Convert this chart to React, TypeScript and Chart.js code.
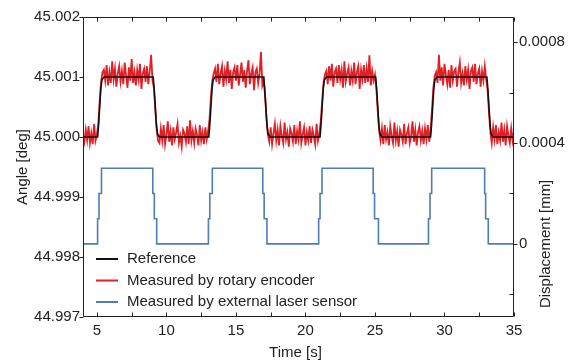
import { useEffect, useRef } from "react";
import { Chart, registerables } from "chart.js";

Chart.register(...registerables);

const FONT = "'Liberation Sans', Arial, Helvetica, sans-serif";
const TEXT = "#222222";

// Axis ticks
const xTicks = [5, 10, 15, 20, 25, 30, 35];
const xMinorTicks = [5, 7.5, 10, 12.5, 15, 17.5, 20, 22.5, 25, 27.5, 30, 32.5, 35];
const angleTicks = [44.997, 44.998, 44.999, 45.0, 45.001, 45.002];
const dispTicks = [0, 0.0004, 0.0008];
const dispMinorTicks = [-0.0002, 0.0002, 0.0006];

// Reference angle (deg)
const refTime = [
  4, 5.05, 5.12, 5.28, 5.36, 5.5,
  9.05, 9.12, 9.28, 9.36, 9.5,
  13.05, 13.12, 13.28, 13.36, 13.5,
  17.0, 17.07, 17.23, 17.31, 17.45,
  21.05, 21.12, 21.28, 21.36, 21.5,
  25.05, 25.12, 25.28, 25.36, 25.5,
  29.0, 29.07, 29.23, 29.31, 29.45,
  33.05, 33.12, 33.28, 33.36, 33.5,
  35,
];
const refAngle = [
  45.0, 45.0, 45.0002, 45.0008, 45.00095, 45.001,
  45.001, 45.0008, 45.0002, 45.00005, 45.0,
  45.0, 45.0002, 45.0008, 45.00095, 45.001,
  45.001, 45.0008, 45.0002, 45.00005, 45.0,
  45.0, 45.0002, 45.0008, 45.00095, 45.001,
  45.001, 45.0008, 45.0002, 45.00005, 45.0,
  45.0, 45.0002, 45.0008, 45.00095, 45.001,
  45.001, 45.0008, 45.0002, 45.00005, 45.0,
  45.0,
];

// Rotary encoder angle (deg), sampled every 0.1 s from 4.0 s
const encoderStart = 4;
const encoderStep = 0.1;
const encoderAngle = [
  // 4.0 - 5.0
  45.00003, 44.99992, 45.00012, 44.99995, 45.00018, 44.9999, 45.00006, 44.99988, 45.00022, 44.99994, 45.00004,
  // 5.1 - 5.4
  45.00022, 45.0006, 45.00092, 45.00108,
  // 5.5 - 9.0
  45.00112, 45.00094, 45.0012, 45.00086, 45.00108, 45.0009, 45.00126, 45.00096, 45.00114, 45.00084,
  45.00106, 45.00118, 45.00092, 45.0011, 45.00088, 45.00124, 45.00102, 45.00082, 45.00116, 45.00094,
  45.0013, 45.0009, 45.00108, 45.00086, 45.00112, 45.00096, 45.00122, 45.0008, 45.00106, 45.00114,
  45.00092, 45.00118, 45.00088, 45.0011, 45.00137, 45.00094,
  // 9.1 - 9.4
  45.00082, 45.00046, 45.00012, 44.99994,
  // 9.5 - 13.0
  44.9999, 45.00014, 44.99994, 45.0002, 44.99988, 45.00004, 45.00026, 44.99992, 45.0001, 44.99986,
  45.00016, 44.99996, 45.00008, 45.00022, 44.9999, 45.00002, 44.99984, 45.00012, 45.00006, 44.99992,
  45.00018, 44.99988, 45.00028, 44.99994, 45.0001, 44.9999, 45.00014, 45.00004, 44.99986, 45.0002,
  44.99994, 45.00008, 44.99988, 45.00016, 44.99996, 45.0001,
  // 13.1 - 13.4
  45.0003, 45.00066, 45.00094, 45.00106,
  // 13.5 - 17.0
  45.00114, 45.00092, 45.00122, 45.00088, 45.00106, 45.00118, 45.00084, 45.0011, 45.00096, 45.00126,
  45.0009, 45.00112, 45.0008, 45.00108, 45.00116, 45.00094, 45.0012, 45.00086, 45.00104, 45.00124,
  45.00092, 45.00112, 45.00082, 45.0011, 45.00128, 45.00088, 45.00106, 45.00116, 45.00078, 45.00108,
  45.00114, 45.0009, 45.00106, 45.00142, 45.00086, 45.00094,
  // 17.1 - 17.3
  45.00068, 45.0003, 45.00004,
  // 17.4 - 21.0
  44.99992, 45.00016, 44.99988, 45.00006, 45.00022, 44.99994, 45.00012, 44.99986, 45.00018, 45.00002,
  44.9999, 45.00024, 44.99996, 45.00008, 44.99984, 45.00014, 45.00006, 44.99992, 45.0002, 44.99988,
  45.0001, 44.99996, 45.00026, 44.9999, 45.00004, 45.00016, 44.99986, 45.00008, 44.99994, 45.00018,
  44.9999, 45.00012, 45.00002, 44.99988, 45.00022, 44.99994, 45.00006,
  // 21.1 - 21.4
  45.00026, 45.0006, 45.0009, 45.00104,
  // 21.5 - 25.0
  45.0011, 45.00088, 45.00118, 45.00094, 45.00122, 45.00084, 45.00108, 45.00114, 45.0009, 45.0012,
  45.00096, 45.00112, 45.00082, 45.00126, 45.00092, 45.00106, 45.00116, 45.00086, 45.0011, 45.00094,
  45.00124, 45.00088, 45.00108, 45.00118, 45.0008, 45.00112, 45.00096, 45.0012, 45.0009, 45.00114,
  45.00092, 45.00136, 45.00086, 45.0011, 45.00094, 45.00104,
  // 25.1 - 25.3
  45.0008, 45.00044, 45.0001,
  // 25.4 - 28.9
  44.99994, 45.00014, 44.99988, 45.0002, 44.99996, 45.00008, 44.99986, 45.00018, 45.00002, 44.9999,
  45.00024, 44.99994, 45.0001, 44.99984, 45.00012, 45.00004, 44.99992, 45.00022, 44.99988, 45.00006,
  45.00016, 44.9999, 45.00002, 45.00026, 44.99992, 45.00012, 44.99986, 45.00008, 45.00018, 44.99994,
  45.0001, 44.99988, 45.00014, 44.99996, 45.0002, 44.99992,
  // 29.0 - 29.3
  45.00012, 45.00045, 45.00082, 45.00102,
  // 29.4 - 33.0
  45.00108, 45.0009, 45.00137, 45.00094, 45.00116, 45.00086, 45.00122, 45.00104, 45.00088, 45.00112,
  45.00082, 45.0012, 45.00094, 45.0011, 45.00114, 45.00084, 45.00108, 45.00124, 45.0009, 45.00106,
  45.00086, 45.00118, 45.00096, 45.00112, 45.0008, 45.0011, 45.00116, 45.00092, 45.00122, 45.00088,
  45.00106, 45.00114, 45.00084, 45.0011, 45.00094, 45.00118, 45.00096,
  // 33.1 - 33.3
  45.00078, 45.00042, 45.00008,
  // 33.4 - 35.0
  44.9999, 45.00016, 44.99996, 45.0002, 44.99988, 45.00008, 44.99994, 45.00024, 44.99992, 45.00012,
  44.99986, 45.00018, 45.00002, 44.9999, 45.00014, 44.99994, 45.0001,
];

// External laser sensor displacement (mm), step changes
const laserTime = [
  4, 5.05, 5.15, 5.33, 9.02, 9.13, 9.3,
  13.02, 13.12, 13.3, 16.93, 17.03, 17.23,
  20.95, 21.05, 21.19, 24.87, 24.97, 25.25,
  28.85, 28.96, 29.08, 32.89, 32.96, 33.15,
  35,
];
const laserDisp = [
  0, 0.0001, 0.0002, 0.0003, 0.0002, 0.0001, 0,
  0.0001, 0.0002, 0.0003, 0.0002, 0.0001, 0,
  0.0001, 0.0002, 0.0003, 0.0002, 0.0001, 0,
  0.0001, 0.0002, 0.0003, 0.0002, 0.0001, 0,
  0,
];

const seriesLabels = [
  "Reference",
  "Measured by rotary encoder",
  "Measured by external laser sensor",
];
const seriesColors = ["#111111", "#e31e24", "#4f7cb3"];

const decorPlugin = {
  id: "decor",
  afterDraw(chart: any) {
    const { ctx, chartArea: a, scales } = chart;
    const xs = scales.x;
    const ys = scales.y;
    const y2 = scales.y2;
    ctx.save();
    ctx.strokeStyle = "#222222";
    ctx.lineWidth = 1;
    const L = Math.round(a.left) + 0.5;
    const R = Math.round(a.right) - 0.5;
    const T = Math.round(a.top) + 0.5;
    const B = Math.round(a.bottom) - 0.5;
    ctx.beginPath();
    ctx.rect(L, T, R - L, B - T);
    ctx.stroke();

    ctx.beginPath();
    for (const v of xMinorTicks) {
      const px = Math.round(xs.getPixelForValue(v)) + 0.5;
      ctx.moveTo(px, B);
      ctx.lineTo(px, B - 4);
      ctx.moveTo(px, T);
      ctx.lineTo(px, T + 4);
    }
    for (const v of angleTicks) {
      const py = Math.round(ys.getPixelForValue(v)) + 0.5;
      ctx.moveTo(L, py);
      ctx.lineTo(L - 4, py);
    }
    for (const v of dispTicks) {
      const py = Math.round(y2.getPixelForValue(v)) + 0.5;
      ctx.moveTo(R, py);
      ctx.lineTo(R + 4, py);
    }
    for (const v of dispMinorTicks) {
      const py = Math.round(y2.getPixelForValue(v)) + 0.5;
      ctx.moveTo(R, py);
      ctx.lineTo(R - 4, py);
    }
    ctx.stroke();

    // Axis titles
    ctx.fillStyle = TEXT;
    ctx.font = `15px ${FONT}`;
    ctx.textAlign = "center";
    ctx.textBaseline = "middle";
    ctx.fillText("Time [s]", (a.left + a.right) / 2 - 3, a.bottom + 36);

    ctx.save();
    ctx.translate(23, (a.top + a.bottom) / 2);
    ctx.rotate(-Math.PI / 2);
    ctx.fillText("Angle [deg]", 0, 0);
    ctx.restore();

    ctx.save();
    ctx.translate(546, y2.getPixelForValue(0));
    ctx.rotate(-Math.PI / 2);
    ctx.fillText("Displacement [mm]", 0, 0);
    ctx.restore();

    // Legend inside plot, lower left
    ctx.textAlign = "left";
    ctx.lineWidth = 2;
    for (let i = 0; i < seriesLabels.length; i++) {
      const yy = 259 + i * 21.5;
      ctx.strokeStyle = seriesColors[i];
      ctx.beginPath();
      ctx.moveTo(a.left + 13, yy);
      ctx.lineTo(a.left + 35, yy);
      ctx.stroke();
      ctx.fillStyle = TEXT;
      ctx.fillText(seriesLabels[i], a.left + 44, yy);
    }
    ctx.restore();
  },
};

export default function App() {
  const canvasRef = useRef<HTMLCanvasElement | null>(null);

  useEffect(() => {
    const canvas = canvasRef.current;
    if (!canvas) return;

    const refData = refTime.map((t, i) => ({ x: t, y: refAngle[i] }));
    const encData = encoderAngle.map((v, i) => ({
      x: Math.round((encoderStart + i * encoderStep) * 10) / 10,
      y: v,
    }));
    const laserData = laserTime.map((t, i) => ({ x: t, y: laserDisp[i] }));

    const tickFont = { family: FONT, size: 15 };

    const chart = new Chart(canvas, {
      type: "line",
      data: {
        datasets: [
          {
            label: seriesLabels[0],
            data: refData,
            borderColor: seriesColors[0],
            borderWidth: 1.6,
            pointRadius: 0,
            tension: 0,
            yAxisID: "y",
          },
          {
            label: seriesLabels[1],
            data: encData,
            borderColor: seriesColors[1],
            borderWidth: 1.8,
            pointRadius: 0,
            tension: 0,
            yAxisID: "y",
          },
          {
            label: seriesLabels[2],
            data: laserData,
            borderColor: seriesColors[2],
            borderWidth: 1.6,
            pointRadius: 0,
            stepped: true,
            yAxisID: "y2",
          },
        ],
      },
      options: {
        responsive: false,
        animation: false,
        devicePixelRatio: 1,
        events: [],
        layout: { padding: { top: 17, left: 0, right: 0, bottom: 0 } },
        plugins: {
          legend: { display: false },
          tooltip: { enabled: false },
        },
        scales: {
          x: {
            type: "linear",
            position: "bottom",
            min: 4,
            max: 35,
            grid: { display: false, drawTicks: false },
            border: { display: false },
            ticks: {
              font: tickFont,
              color: TEXT,
              padding: 5,
              maxRotation: 0,
              autoSkip: false,
              callback: (v: any) => String(v),
            },
            afterBuildTicks: (s: any) => {
              s.ticks = xTicks.map((v) => ({ value: v }));
            },
            afterFit: (s: any) => {
              s.height = 45;
            },
          },
          y: {
            type: "linear",
            position: "left",
            min: 44.997,
            max: 45.002,
            grid: { display: false, drawTicks: false },
            border: { display: false },
            ticks: {
              font: tickFont,
              color: TEXT,
              padding: 3,
              autoSkip: false,
              callback: (v: any) => Number(v).toFixed(3),
            },
            afterBuildTicks: (s: any) => {
              s.ticks = angleTicks.map((v) => ({ value: v }));
            },
            afterFit: (s: any) => {
              s.width = 83;
            },
          },
          y2: {
            type: "linear",
            position: "right",
            min: -0.00029,
            max: 0.0009,
            grid: { display: false, drawTicks: false },
            border: { display: false },
            ticks: {
              font: tickFont,
              color: TEXT,
              padding: 5,
              autoSkip: false,
              callback: (v: any) => (Number(v) === 0 ? "0" : Number(v).toFixed(4)),
            },
            afterBuildTicks: (s: any) => {
              s.ticks = dispTicks.map((v) => ({ value: v }));
            },
            afterFit: (s: any) => {
              s.width = 57;
            },
          },
        },
      },
      plugins: [decorPlugin],
    });

    return () => {
      chart.destroy();
    };
  }, []);

  return (
    <div style={{ position: "absolute", left: 0, top: 0, width: 571, height: 362, background: "#ffffff" }}>
      <canvas ref={canvasRef} width={571} height={362} style={{ display: "block" }} />
    </div>
  );
}
